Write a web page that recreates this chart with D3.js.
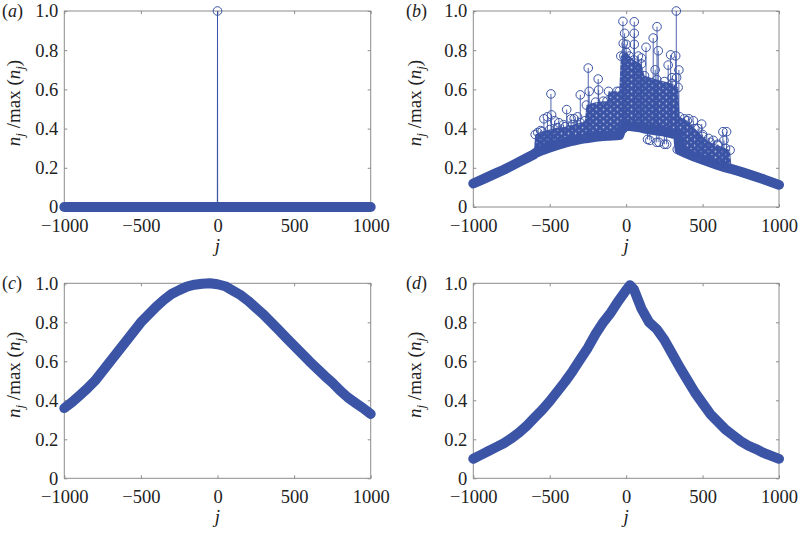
<!DOCTYPE html>
<html lang="en">

<head>
    <meta charset="UTF-8">
    <title>n_j / max(n_j)</title>
    <script src="https://cdn.jsdelivr.net/npm/d3@7/dist/d3.min.js"></script>
    <style>
        body { margin: 0; background: #fff; }
    </style>
</head>

<body>
    <div id="box"></div>

    <script>
        // ticks
        const xTicks = [-1000, -500, 0, 500, 1000];
        const yTicks = [0, 0.2, 0.4, 0.6, 0.8, 1.0];

        // common j grid (step 50) for the smooth curve in (c)
        const jGrid = [-1000, -950, -900, -850, -800, -750, -700, -650, -600, -550, -500, -450, -400, -350, -300, -250, -200, -150, -100, -50,
            0, 50, 100, 150, 200, 250, 300, 350, 400, 450, 500, 550, 600, 650, 700, 750, 800, 850, 900, 950, 1000];

        // (a) everything sits at 0 except the single site j = 0
        const aBandJ = [-1000, 1000];
        const aBandV = [0, 0];
        const aSpikeJ = [-1, 0, 1];
        const aSpikeV = [0, 1, 0];

        // (b) lower / upper edge of the dense cloud of markers
        const bJ = [-1000, -950, -900, -850, -800, -750, -700, -650, -605, -595, -550, -500, -450, -400, -350, -300, -270, -260, -200, -150, -125, -115, -60, -45,
            -35, 0, 50, 100, 120, 200, 250, 300, 340, 350, 400, 450, 500, 550, 600, 650, 680, 690, 750, 800, 850, 900, 950, 1000];
        const bLow = [0.12, 0.137, 0.155, 0.173, 0.19, 0.21, 0.23, 0.25, 0.268, 0.275, 0.29, 0.303, 0.316, 0.328, 0.338, 0.346, 0.35, 0.351, 0.358, 0.362, 0.364, 0.364, 0.366, 0.367,
            0.39, 0.415, 0.41, 0.405, 0.40, 0.39, 0.385, 0.375, 0.37, 0.29, 0.272, 0.256, 0.242, 0.228, 0.214, 0.202, 0.196, 0.194, 0.18, 0.167, 0.154, 0.141, 0.127, 0.113];
        const bHigh = [0.12, 0.137, 0.155, 0.173, 0.19, 0.21, 0.23, 0.25, 0.268, 0.37, 0.385, 0.395, 0.405, 0.41, 0.42, 0.43, 0.44, 0.52, 0.535, 0.54, 0.54, 0.59, 0.59, 0.59,
            0.77, 0.79, 0.75, 0.73, 0.67, 0.65, 0.64, 0.63, 0.61, 0.46, 0.44, 0.40, 0.36, 0.33, 0.315, 0.30, 0.29, 0.194, 0.18, 0.167, 0.154, 0.141, 0.127, 0.113];
        // (b) isolated markers standing out of the cloud
        const bSpikeJ = [-578, -560, -538, -515, -492, -488, -468, -440, -410, -389, -360, -340, -318, -300, -248, -242, -183, -180,
            -21, -19, -10, -15, 0, 53, 53, 53, 20, 80, 130, 100, 177, 202, 210, 190, 275, 291, 324, 328, 345, 300, 330,
            140, 155, 200, 215, 250, 265, 334,
            380, 410, 440, 494, 470, 500, 540, 570, 600, 633, 657, 640];
        const bSpikeV = [0.38, 0.39, 0.45, 0.46, 0.577, 0.47, 0.44, 0.43, 0.42, 0.497, 0.45, 0.45, 0.46, 0.572, 0.709, 0.59, 0.653, 0.597,
            0.947, 0.835, 0.886, 0.77, 0.83, 0.945, 0.886, 0.83, 0.77, 0.77, 0.815, 0.76, 0.862, 0.92, 0.797, 0.70, 0.724, 0.776, 0.771, 1.0, 0.699, 0.66, 0.66,
            0.345, 0.34, 0.33, 0.33, 0.32, 0.32, 0.294,
            0.45, 0.45, 0.44, 0.423, 0.40, 0.37, 0.35, 0.34, 0.32, 0.384, 0.384, 0.34];

        // (c)
        const cV = [0.36, 0.39, 0.425, 0.46, 0.50, 0.55, 0.60, 0.65, 0.70, 0.75, 0.80, 0.84, 0.88, 0.915, 0.945, 0.965, 0.983, 0.993, 0.998, 1.0,
            0.995, 0.985, 0.963, 0.94, 0.91, 0.875, 0.84, 0.80, 0.76, 0.72, 0.68, 0.64, 0.60, 0.563, 0.525, 0.49, 0.45, 0.415, 0.387, 0.36, 0.33];

        // (d)
        const dJ = [-1000, -950, -900, -850, -800, -750, -700, -650, -600, -550, -500, -450, -400, -350, -300, -250, -200, -150, -100, -50,
            0, 25, 50, 100, 150, 200, 250, 300, 350, 400, 450, 500, 550, 600, 650, 700, 750, 800, 850, 900, 950, 1000];
        const dV = [0.10, 0.12, 0.14, 0.16, 0.18, 0.205, 0.235, 0.27, 0.31, 0.35, 0.395, 0.445, 0.495, 0.55, 0.61, 0.67, 0.74, 0.80, 0.85, 0.91,
            0.965, 0.99, 0.97, 0.87, 0.80, 0.765, 0.71, 0.64, 0.57, 0.505, 0.44, 0.385, 0.33, 0.29, 0.25, 0.22, 0.19, 0.167, 0.15, 0.13, 0.115, 0.10];

        const blue = '#3b54a5';
        const frame = '#8c8c8c';
        const ink = '#222';
        const serif = '"Liberation Serif", "Times New Roman", serif';
        const width = 798,
            height = 533;

        const svg = d3.select('#box')
            .append('svg')
            .attr('width', width)
            .attr('height', height)
            .attr('font-family', serif);

        // texture for the crowded marker cloud of (b): blue with small gaps between rings
        const pat = svg.append('defs').append('pattern')
            .attr('id', 'cloud')
            .attr('patternUnits', 'userSpaceOnUse')
            .attr('width', 7).attr('height', 6);
        pat.append('rect').attr('width', 7).attr('height', 6).attr('fill', blue);
        pat.append('circle').attr('cx', 1.5).attr('cy', 1.5).attr('r', 0.9).attr('fill', '#fff').attr('fill-opacity', 0.6);
        pat.append('circle').attr('cx', 5).attr('cy', 4.5).attr('r', 0.8).attr('fill', '#fff').attr('fill-opacity', 0.5);

        const panels = [
            { id: 'a', left: 64.3, right: 370.7, top: 11, bottom: 207, labelX: 2, titleX: 20 },
            { id: 'b', left: 473.3, right: 779, top: 11, bottom: 207, labelX: 406, titleX: 421 },
            { id: 'c', left: 64.3, right: 370.7, top: 283.3, bottom: 478.3, labelX: 2, titleX: 20 },
            { id: 'd', left: 473.3, right: 779, top: 283.3, bottom: 478.3, labelX: 406, titleX: 421 }
        ];

        const fmtY = v => v === 0 ? '0' : d3.format('.1f')(v);

        function styleAxis(g) {
            g.select('.domain').remove();
            g.attr('font-family', serif).attr('font-size', 18.5);
            g.selectAll('.tick line').attr('stroke', frame);
            g.selectAll('.tick text').attr('fill', ink);
        }

        function band(g, x, y, js, vs) {
            const line = d3.line().x((d, i) => x(js[i])).y(d => y(d));
            g.append('path')
                .attr('d', line(vs))
                .attr('fill', 'none')
                .attr('stroke', blue)
                .attr('stroke-width', 10)
                .attr('stroke-linecap', 'round')
                .attr('stroke-linejoin', 'round');
        }

        function markers(g, x, y, js, vs) {
            g.append('g').selectAll('circle')
                .data(vs)
                .enter()
                .append('circle')
                .attr('cx', (d, i) => x(js[i]))
                .attr('cy', d => y(d))
                .attr('r', 4.3)
                .attr('fill', 'none')
                .attr('stroke', blue)
                .attr('stroke-width', 1);
        }

        function drawPanel(p, draw) {
            const x = d3.scaleLinear().domain([-1000, 1000]).range([p.left, p.right]);
            const y = d3.scaleLinear().domain([0, 1]).range([p.bottom, p.top]);
            const g = svg.append('g');

            g.append('rect')
                .attr('x', p.left).attr('y', p.top)
                .attr('width', p.right - p.left).attr('height', p.bottom - p.top)
                .attr('fill', 'none').attr('stroke', frame).attr('stroke-width', 1);

            g.append('g').attr('transform', `translate(${p.left},0)`)
                .call(d3.axisLeft(y).tickValues(yTicks).tickSize(-3).tickPadding(6).tickFormat(fmtY))
                .call(styleAxis);
            g.append('g').attr('transform', `translate(${p.right},0)`)
                .call(d3.axisRight(y).tickValues(yTicks).tickSize(-3).tickFormat(''))
                .call(styleAxis);
            g.append('g').attr('transform', `translate(0,${p.bottom})`)
                .call(d3.axisBottom(x).tickValues(xTicks).tickSize(-3).tickPadding(12).tickFormat(d3.format('d')))
                .call(styleAxis);
            g.append('g').attr('transform', `translate(0,${p.top})`)
                .call(d3.axisTop(x).tickValues(xTicks).tickSize(-3).tickFormat(''))
                .call(styleAxis);

            // panel letter
            const lab = g.append('text').attr('x', p.labelX).attr('y', p.top + 6)
                .attr('font-size', 18).attr('fill', ink);
            lab.append('tspan').text('(');
            lab.append('tspan').attr('font-style', 'italic').text(p.id);
            lab.append('tspan').text(')');

            // y title
            const yt = g.append('text')
                .attr('transform', `translate(${p.titleX},${(p.top + p.bottom) / 2 - 6}) rotate(-90)`)
                .attr('text-anchor', 'middle')
                .attr('font-size', 19)
                .attr('fill', ink);
            yt.append('tspan').attr('font-style', 'italic').text('n');
            yt.append('tspan').attr('font-style', 'italic').attr('font-size', 13).attr('dy', 4).text('j');
            yt.append('tspan').attr('dy', -4).text(' /max (');
            yt.append('tspan').attr('font-style', 'italic').text('n');
            yt.append('tspan').attr('font-style', 'italic').attr('font-size', 13).attr('dy', 4).text('j');
            yt.append('tspan').attr('dy', -4).text(')');

            // x title
            g.append('text')
                .attr('x', x(0)).attr('y', p.bottom + 45)
                .attr('text-anchor', 'middle')
                .attr('font-size', 19)
                .attr('font-style', 'italic')
                .attr('fill', ink)
                .text('j');

            draw(g, x, y);
        }

        // (a)
        drawPanel(panels[0], (g, x, y) => {
            band(g, x, y, aBandJ, aBandV);
            g.append('path')
                .attr('d', d3.line().x((d, i) => x(aSpikeJ[i])).y(d => y(d))(aSpikeV))
                .attr('fill', 'none').attr('stroke', blue).attr('stroke-width', 1);
            markers(g, x, y, aSpikeJ, aSpikeV);
        });

        // (b)
        drawPanel(panels[1], (g, x, y) => {
            const lowAt = j => bLow[d3.bisectCenter(bJ, j)];
            const area = d3.area()
                .x((d, i) => x(bJ[i]))
                .y0((d, i) => y(bLow[i]))
                .y1(d => y(d));
            g.append('path')
                .attr('d', area(bHigh))
                .attr('fill', 'url(#cloud)');
            band(g, x, y, bJ, bLow);
            // ring outline along the top of the cloud
            const inCloud = bJ.map((j, i) => bHigh[i] > bLow[i] + 0.01);
            markers(g, x, y, bJ.filter((j, i) => inCloud[i]), bHigh.filter((v, i) => inCloud[i]));

            g.append('g').selectAll('line')
                .data(bSpikeV)
                .enter()
                .append('line')
                .attr('x1', (d, i) => x(bSpikeJ[i]))
                .attr('x2', (d, i) => x(bSpikeJ[i]))
                .attr('y1', (d, i) => y(lowAt(bSpikeJ[i])))
                .attr('y2', d => y(d))
                .attr('stroke', blue)
                .attr('stroke-width', 0.9);
            markers(g, x, y, bSpikeJ, bSpikeV);
        });

        // (c)
        drawPanel(panels[2], (g, x, y) => {
            band(g, x, y, jGrid, cV);
        });

        // (d)
        drawPanel(panels[3], (g, x, y) => {
            band(g, x, y, dJ, dV);
        });
    </script>
</body>

</html>
